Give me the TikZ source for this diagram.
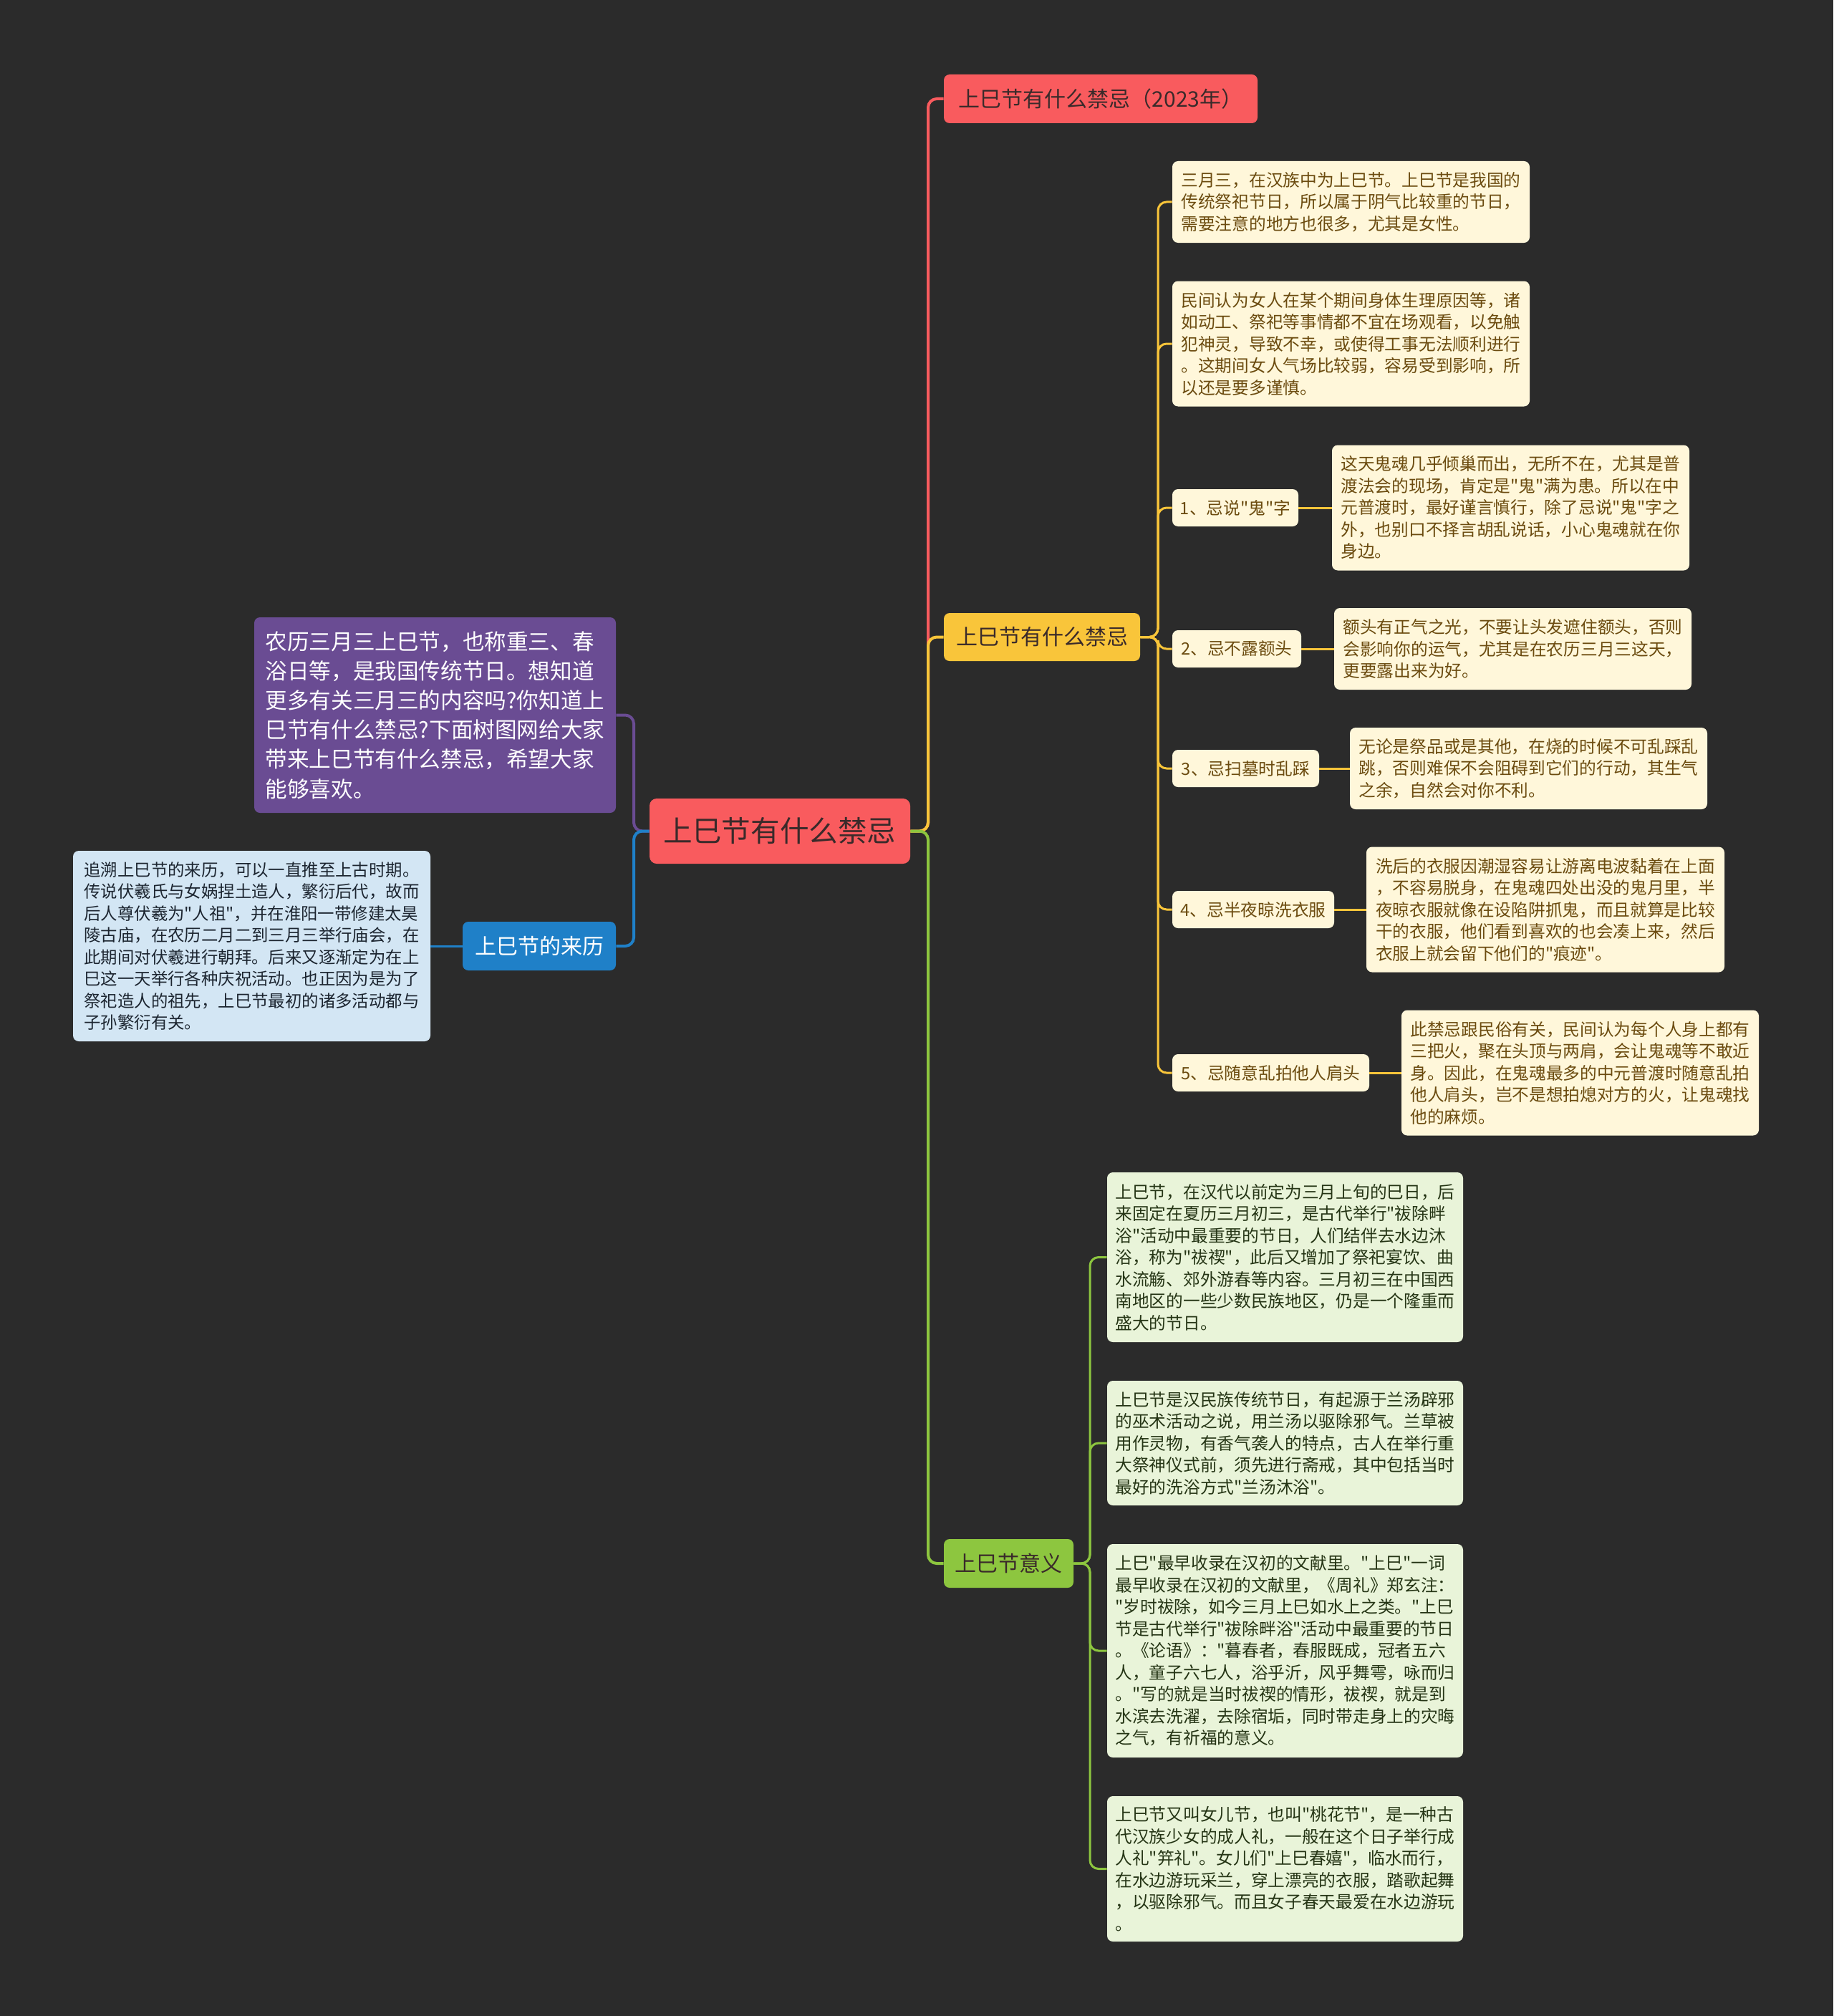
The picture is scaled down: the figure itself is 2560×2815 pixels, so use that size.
\documentclass[tikz,border=0pt]{standalone}
\usepackage{fontspec}
\newfontfamily\cjk{Noto Sans CJK SC}
\definecolor{bg}{HTML}{2B2B2B}
\definecolor{cred}{HTML}{F95B5E}
\definecolor{cyel}{HTML}{F9C53A}
\definecolor{cgreen}{HTML}{8DC63F}
\definecolor{cblue}{HTML}{1F80C8}
\definecolor{cpurple}{HTML}{6A4C93}
\definecolor{leafY}{HTML}{FFF7DA}
\definecolor{textY}{HTML}{6B4B0F}
\definecolor{leafG}{HTML}{E9F4D9}
\definecolor{textG}{HTML}{253515}
\definecolor{leafB}{HTML}{D3E6F4}
\definecolor{textB}{HTML}{1C2530}
\definecolor{darkT}{HTML}{3A2A2A}
\begin{document}
\begin{tikzpicture}[x=0.5pt,y=-0.5pt,
  box/.style={rounded corners=4pt, inner sep=0pt, align=left},
  rootbox/.style={box, fill=cred, text=darkT, rounded corners=5pt, font=\cjk\fontsize{20.3pt}{24pt}\selectfont},
  brbox/.style={box, font=\cjk\fontsize{15pt}{18pt}\selectfont},
  leafy/.style={box, fill=leafY, text=textY, font=\cjk\fontsize{11.85pt}{15.25pt}\selectfont},
  leafg/.style={box, fill=leafG, text=textG, font=\cjk\fontsize{11.85pt}{15.25pt}\selectfont},
  leafb/.style={box, fill=leafB, text=textB, font=\cjk\fontsize{11.7pt}{15.25pt}\selectfont},
  mainline/.style={line width=2pt, rounded corners=6pt},
  subline/.style={line width=1.5pt, rounded corners=6pt}
]
\useasboundingbox[fill=bg] (0,0) rectangle (2560,2815);

% main nodes
\node[rootbox, minimum width=182pt, minimum height=45.5pt] (root) at (1089,1160.5) {上巳节有什么禁忌};
\node[brbox, fill=cred, text=darkT, minimum width=219pt, minimum height=34pt] (red) at (1537,138) {上巳节有什么禁忌（2023年）};
\node[brbox, fill=cyel, text=darkT, minimum width=137pt, minimum height=33.5pt] (yel) at (1455,889.5) {上巳节有什么禁忌};
\node[brbox, fill=cgreen, text=darkT, minimum width=90.5pt, minimum height=34pt] (grn) at (1408.5,2183) {上巳节意义};
\node[brbox, fill=cblue, text=white, minimum width=107pt, minimum height=34pt] (blu) at (753,1321) {上巳节的来历};
\node[box, fill=cpurple, text=white, minimum width=252.5pt, minimum height=136.5pt, font=\cjk\fontsize{15.3pt}{20.6pt}\selectfont] (pur) at (607.5,998.5) {农历三月三上巳节，也称重三、春\\浴日等，是我国传统节日。想知道\\更多有关三月三的内容吗?你知道上\\巳节有什么禁忌?下面树图网给大家\\带来上巳节有什么禁忌，希望大家\\能够喜欢。};
\node[leafb, minimum width=249.5pt, minimum height=133pt] (bleaf) at (351.5,1321) {追溯上巳节的来历，可以一直推至上古时期。\\传说伏羲氏与女娲捏土造人，繁衍后代，故而\\后人尊伏羲为"人祖"，并在淮阳一带修建太昊\\陵古庙，在农历二月二到三月三举行庙会，在\\此期间对伏羲进行朝拜。后来又逐渐定为在上\\巳这一天举行各种庆祝活动。也正因为是为了\\祭祀造人的祖先，上巳节最初的诸多活动都与\\子孙繁衍有关。};

% yellow children
\node[leafy, minimum width=249.5pt, minimum height=57pt] (t1) at (1886.5,282) {三月三，在汉族中为上巳节。上巳节是我国的\\传统祭祀节日，所以属于阴气比较重的节日，\\需要注意的地方也很多，尤其是女性。};
\node[leafy, minimum width=249.5pt, minimum height=87.5pt] (t2) at (1886.5,480) {民间认为女人在某个期间身体生理原因等，诸\\如动工、祭祀等事情都不宜在场观看，以免触\\犯神灵，导致不幸，或使得工事无法顺利进行\\。这期间女人气场比较弱，容易受到影响，所\\以还是要多谨慎。};
\node[leafy, minimum width=88pt, minimum height=26pt] (i1) at (1725,709) {1、忌说"鬼"字};
\node[leafy, minimum width=90pt, minimum height=26pt] (i2) at (1727,906) {2、忌不露额头};
\node[leafy, minimum width=102.5pt, minimum height=26pt] (i3) at (1739.5,1073) {3、忌扫墓时乱踩};
\node[leafy, minimum width=113pt, minimum height=26pt] (i4) at (1750,1270) {4、忌半夜晾洗衣服};
\node[leafy, minimum width=137.5pt, minimum height=26pt] (i5) at (1774.5,1498) {5、忌随意乱拍他人肩头};
\node[leafy, minimum width=249.5pt, minimum height=87.5pt] (d1) at (2109.5,709) {这天鬼魂几乎倾巢而出，无所不在，尤其是普\\渡法会的现场，肯定是"鬼"满为患。所以在中\\元普渡时，最好谨言慎行，除了忌说"鬼"字之\\外，也别口不择言胡乱说话，小心鬼魂就在你\\身边。};
\node[leafy, minimum width=249.5pt, minimum height=57pt] (d2) at (2112.5,906) {额头有正气之光，不要让头发遮住额头，否则\\会影响你的运气，尤其是在农历三月三这天，\\更要露出来为好。};
\node[leafy, minimum width=249.5pt, minimum height=57pt] (d3) at (2134.5,1073) {无论是祭品或是其他，在烧的时候不可乱踩乱\\跳，否则难保不会阻碍到它们的行动，其生气\\之余，自然会对你不利。};
\node[leafy, minimum width=250pt, minimum height=87.5pt] (d4) at (2158,1270) {洗后的衣服因潮湿容易让游离电波黏着在上面\\，不容易脱身，在鬼魂四处出没的鬼月里，半\\夜晾衣服就像在设陷阱抓鬼，而且就算是比较\\干的衣服，他们看到喜欢的也会凑上来，然后\\衣服上就会留下他们的"痕迹"。};
\node[leafy, minimum width=249.5pt, minimum height=87.5pt] (d5) at (2206.5,1498) {此禁忌跟民俗有关，民间认为每个人身上都有\\三把火，聚在头顶与两肩，会让鬼魂等不敢近\\身。因此，在鬼魂最多的中元普渡时随意乱拍\\他人肩头，岂不是想拍熄对方的火，让鬼魂找\\他的麻烦。};

% green children
\node[leafg, minimum width=248.5pt, minimum height=118.5pt] (g1) at (1794.5,1755.5) {上巳节，在汉代以前定为三月上旬的巳日，后\\来固定在夏历三月初三，是古代举行"祓除畔\\浴"活动中最重要的节日，人们结伴去水边沐\\浴，称为"祓禊"，此后又增加了祭祀宴饮、曲\\水流觞、郊外游春等内容。三月初三在中国西\\南地区的一些少数民族地区，仍是一个隆重而\\盛大的节日。};
\node[leafg, minimum width=248.5pt, minimum height=87pt] (g2) at (1794.5,2015) {上巳节是汉民族传统节日，有起源于兰汤辟邪\\的巫术活动之说，用兰汤以驱除邪气。兰草被\\用作灵物，有香气袭人的特点，古人在举行重\\大祭神仪式前，须先进行斋戒，其中包括当时\\最好的洗浴方式"兰汤沐浴"。};
\node[leafg, minimum width=248.5pt, minimum height=149pt] (g3) at (1794.5,2305) {上巳"最早收录在汉初的文献里。"上巳"一词\\最早收录在汉初的文献里，《周礼》郑玄注：\\"岁时祓除，如今三月上巳如水上之类。"上巳\\节是古代举行"祓除畔浴"活动中最重要的节日\\。《论语》："暮春者，春服既成，冠者五六\\人，童子六七人，浴乎沂，风乎舞雩，咏而归\\。"写的就是当时祓禊的情形，祓禊，就是到\\水滨去洗濯，去除宿垢，同时带走身上的灾晦\\之气，有祈福的意义。};
\node[leafg, minimum width=248.5pt, minimum height=101.5pt] (g4) at (1794.5,2609.5) {上巳节又叫女儿节，也叫"桃花节"，是一种古\\代汉族少女的成人礼，一般在这个日子举行成\\人礼"笄礼"。女儿们"上巳春嬉"，临水而行，\\在水边游玩采兰，穿上漂亮的衣服，踏歌起舞\\，以驱除邪气。而且女子春天最爱在水边游玩\\。};

% spine coordinates
\coordinate (rs) at (1296,1160.5);
\coordinate (ls) at (885,1160.5);
\coordinate (ys) at (1617,889.5);
\coordinate (gs) at (1522,2183);

% connectors (drawn behind nodes)
\begin{scope}[on background layer/.try]
\end{scope}
\draw[mainline, cred] (root.east) -- (rs) |- (red.west);
\draw[mainline, cyel] (root.east) -- (rs) |- (yel.west);
\draw[mainline, cgreen] (root.east) -- (rs) |- (grn.west);
\draw[mainline, cpurple] (root.west) -- (ls) |- (pur.east);
\draw[mainline, cblue] (root.west) -- (ls) |- (blu.east);
\draw[subline, cblue] (blu.west) -- (bleaf.east);

\foreach \n in {t1,t2,i1,i2,i3,i4,i5}{
  \draw[subline, cyel] (yel.east) -- (ys) |- (\n.west);
}
\draw[subline, cyel] (i1.east) -- (d1.west);
\draw[subline, cyel] (i2.east) -- (d2.west);
\draw[subline, cyel] (i3.east) -- (d3.west);
\draw[subline, cyel] (i4.east) -- (d4.west);
\draw[subline, cyel] (i5.east) -- (d5.west);

\foreach \n in {g1,g2,g3,g4}{
  \draw[subline, cgreen] (grn.east) -- (gs) |- (\n.west);
}
\end{tikzpicture}
\end{document}
